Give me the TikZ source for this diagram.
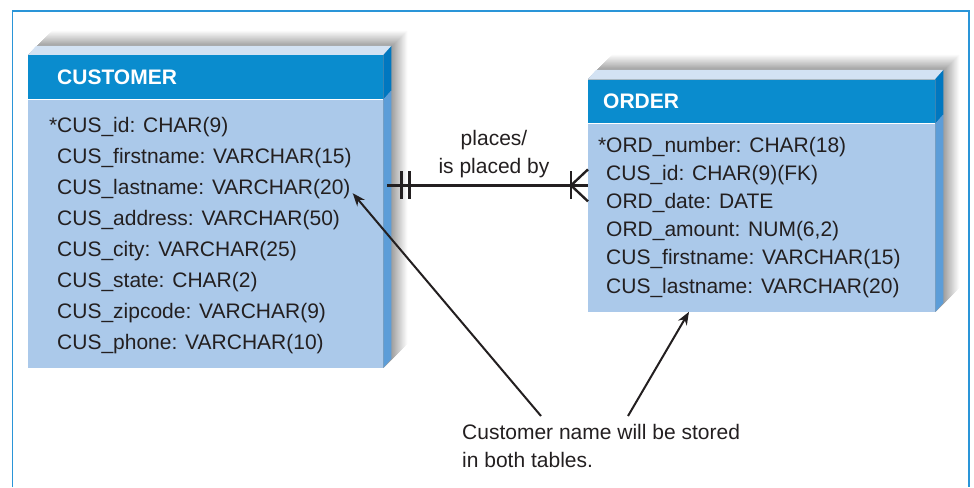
\documentclass[tikz,border=0pt]{standalone}
\usepackage{fontspec}
\setmainfont{Liberation Sans}
\usetikzlibrary{arrows.meta,calc}
\definecolor{ink}{RGB}{35,31,32}
\definecolor{hdrblue}{RGB}{10,140,206}
\definecolor{bodyblue}{RGB}{171,201,234}
\definecolor{topface}{RGB}{211,226,243}
\definecolor{sidedark}{RGB}{0,119,192}
\definecolor{sidelight}{RGB}{92,157,216}
\definecolor{framecol}{RGB}{42,149,216}
\tikzset{>=Stealth,every node/.style={font=\fontsize{21}{28}\selectfont,text=ink,inner sep=0pt},
  hdr/.style={fill=hdrblue,minimum height=44pt,anchor=north west,align=left,font=\fontsize{21}{28}\selectfont\bfseries,text=white},
  tbody/.style={fill=bodyblue,anchor=north west},row/.style={anchor=base west},
  rel/.style={draw=ink,line width=2.4pt},pointer/.style={draw=ink,line width=2pt,-{Stealth[length=13pt,width=10pt]}}}
% shadow, top and side faces of a table (#1 header, #2 body)
\newcommand{\tablefaces}[2]{%
  \foreach \d [evaluate=\d as \g using int((25-\d)*2.4)] in {24,23,...,9}
    \fill[black!\g] (#1.north west) -- ++(\d,-\d) -- ($(#1.north east)+(\d,-\d)$) -- ($(#2.south east)+(\d,-\d)$) -- (#2.south east) -- (#1.north east) -- cycle;
  \fill[topface] (#1.north west) -- ++(8,-9) -- ($(#1.north east)+(8,-9)$) -- (#1.north east) -- cycle;
  \fill[sidedark] (#1.north east) -- ++(8,-9) -- ($(#1.south east)+(8,-9)$) -- (#1.south east) -- cycle;
  \fill[sidelight] (#2.north east) -- ++(8,-9) -- ($(#2.south east)+(8,-9)$) -- (#2.south east) -- cycle;}
\begin{document}
\begin{tikzpicture}[x=1pt,y=-1pt]
\useasboundingbox (0,0) rectangle (974,487);
\draw[framecol,line width=1.3pt] (12.5,487) -- (12.5,11) -- (969,11) -- (969,487);
% customer table
\node[hdr,inner xsep=29pt,text width=297pt] (custhead) at (28,55) {CUSTOMER};
\node[tbody,minimum width=355pt,minimum height=268pt] (custbody) at (custhead.south west) {};
\tablefaces{custhead}{custbody}
\foreach \t [count=\i] in {\llap{*}CUS\_id: CHAR(9),CUS\_firstname: VARCHAR(15),CUS\_lastname: VARCHAR(20),CUS\_address: VARCHAR(50),CUS\_city: VARCHAR(25),CUS\_state: CHAR(2),CUS\_zipcode: VARCHAR(9),CUS\_phone: VARCHAR(10)}
  \node[row] (c\i) at (57,{132+31.1*(\i-1)}) {\t};
% order table
\node[hdr,inner xsep=15pt,text width=317pt] (ordhead) at (588,79) {ORDER};
\node[tbody,minimum width=347pt,minimum height=188pt] (ordbody) at (ordhead.south west) {};
\tablefaces{ordhead}{ordbody}
\foreach \t [count=\i] in {\llap{*}ORD\_number: CHAR(18),CUS\_id: CHAR(9)(FK),ORD\_date: DATE,{ORD\_amount: NUM(6,2)},CUS\_firstname: VARCHAR(15),CUS\_lastname: VARCHAR(20)}
  \node[row] (o\i) at (606,{152+28.2*(\i-1)}) {\t};
% relationship
\coordinate (rl) at ($(custbody.north east)+(4,86)$);
\coordinate (rr) at (ordbody.west |- rl);
\draw[rel] (rl) -- (rr);
\draw[rel] ($(rl)+(14,-14)$) -- ++(0,28) ($(rl)+(22,-14)$) -- ++(0,28);
\draw[rel] ($(rr)+(-17,-14)$) -- ++(0,28);
\draw[rel] ($(rr)+(0,-16)$) -- ($(rr)+(-17,0)$) -- ($(rr)+(0,16)$);
\node[align=center,anchor=north] (relname) at (494,130) {places/\\is placed by};
% note
\node[anchor=north west,align=left] (note) at (462,424) {Customer name will be stored\\in both tables.};
\coordinate (tipA) at ($(c3.base east)+(2,-1)$);
\coordinate (tipB) at ($(ordbody.south west)+(101,0)$);
\draw[pointer] ($(note.north west)+(79,-8)$) -- (tipA);
\draw[pointer] ($(note.north west)+(166,-8)$) -- (tipB);
\end{tikzpicture}
\end{document}
